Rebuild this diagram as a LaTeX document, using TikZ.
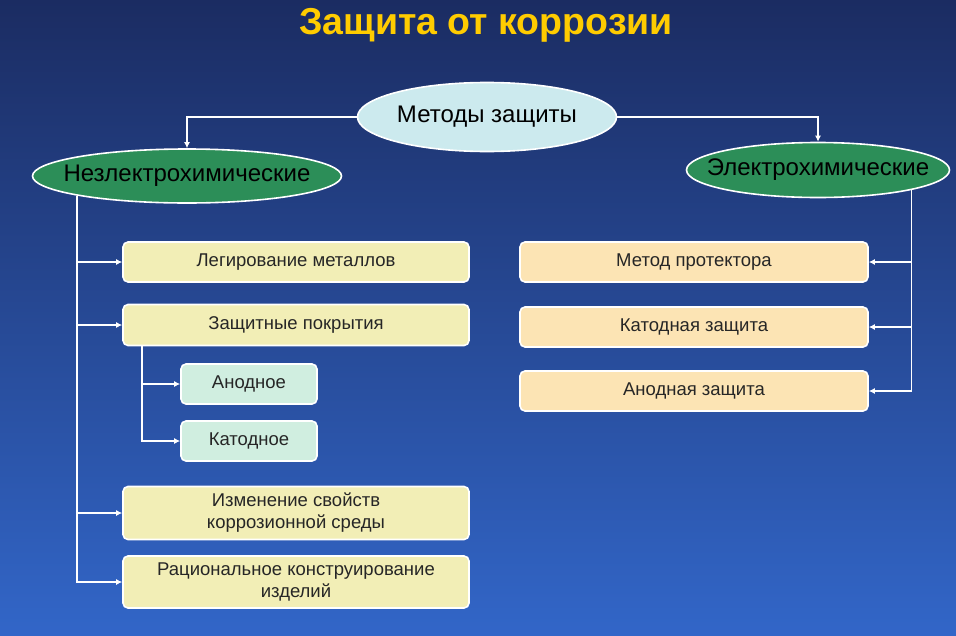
\documentclass[tikz,border=0pt]{standalone}
\usepackage{fontspec}
\setmainfont{Liberation Sans}
\usetikzlibrary{shapes.geometric,arrows.meta}
\definecolor{bgtop}{RGB}{27,44,98}
\definecolor{bgmid}{RGB}{36,68,152}
\definecolor{bgbot}{RGB}{50,102,200}
\definecolor{titlegold}{RGB}{255,204,0}
\definecolor{ovalblue}{RGB}{204,234,238}
\definecolor{ovalgreen}{RGB}{44,142,88}
\definecolor{boxyellow}{RGB}{242,238,182}
\definecolor{boxpeach}{RGB}{252,228,180}
\definecolor{boxmint}{RGB}{208,238,224}
\newcommand{\ovaltext}[1]{\makebox[0pt]{#1}}
\begin{document}
\begin{tikzpicture}[x=1pt,y=-1pt,
  oval/.style={ellipse, draw=white, line width=1.6pt, inner sep=0pt, font=\fontsize{24}{28}\selectfont},
  item/.style={rectangle, rounded corners=5pt, draw=white, line width=1.6pt, inner sep=0pt,
    minimum width=346pt, minimum height=40pt, align=center, text=black!85, font=\fontsize{18.5}{22}\selectfont},
  link/.style={draw=white, line width=1.6pt, -{Latex[length=6pt,width=6pt]}}]
\useasboundingbox (0,0) rectangle (956,635);
\shade[top color=bgtop, middle color=bgmid, bottom color=bgbot] (0,0) rectangle (956,635);
\node[font=\bfseries\fontsize{37.5}{40}\selectfont, text=titlegold] (title) at (486,25) {Защита от коррозии};

\node[oval, fill=ovalblue, minimum width=259pt, minimum height=69pt] (methods) at (487,117) {\ovaltext{Методы защиты}};
\node[oval, fill=ovalgreen, minimum width=309pt, minimum height=54pt] (nonel) at (187,176) {\ovaltext{Незлектрохимические}};
\node[oval, fill=ovalgreen, minimum width=263pt, minimum height=55pt] (el) at (818,170) {\ovaltext{Электрохимические}};

\node[item, fill=boxyellow] (alloy) at (296,262) {Легирование металлов};
\node[item, fill=boxyellow, minimum height=41pt] (coat) at (296,325) {Защитные покрытия};
\node[item, fill=boxmint, minimum width=136pt] (anode) at (249,384) {Анодное};
\node[item, fill=boxmint, minimum width=136pt] (cathode) at (249,441) {Катодное};
\node[item, fill=boxyellow, minimum height=53pt] (medium) at (296,513) {Изменение свойств\\коррозионной среды};
\node[item, fill=boxyellow, minimum height=52pt] (design) at (296,582) {Рациональное конструирование\\изделий};

\node[item, fill=boxpeach, minimum width=348pt] (protector) at (694,262) {Метод протектора};
\node[item, fill=boxpeach, minimum width=348pt] (cathprot) at (694,327) {Катодная защита};
\node[item, fill=boxpeach, minimum width=348pt] (anprot) at (694,391) {Анодная защита};

\draw[link] (methods.west) -| (nonel.north);
\draw[link] (methods.east) -| (el.north);
\coordinate (ltrunk) at (nonel.south west);
\coordinate (rtrunk) at (el.south east);
\coordinate (csub) at ([xshift=20pt]coat.south west);
\foreach \n in {alloy,coat,medium,design}
  \draw[link] (ltrunk) |- (\n.west);
\foreach \n in {protector,cathprot,anprot}
  \draw[link] (rtrunk) |- (\n.east);
\foreach \n in {anode,cathode}
  \draw[link] (csub) |- (\n.west);
\end{tikzpicture}
\end{document}
